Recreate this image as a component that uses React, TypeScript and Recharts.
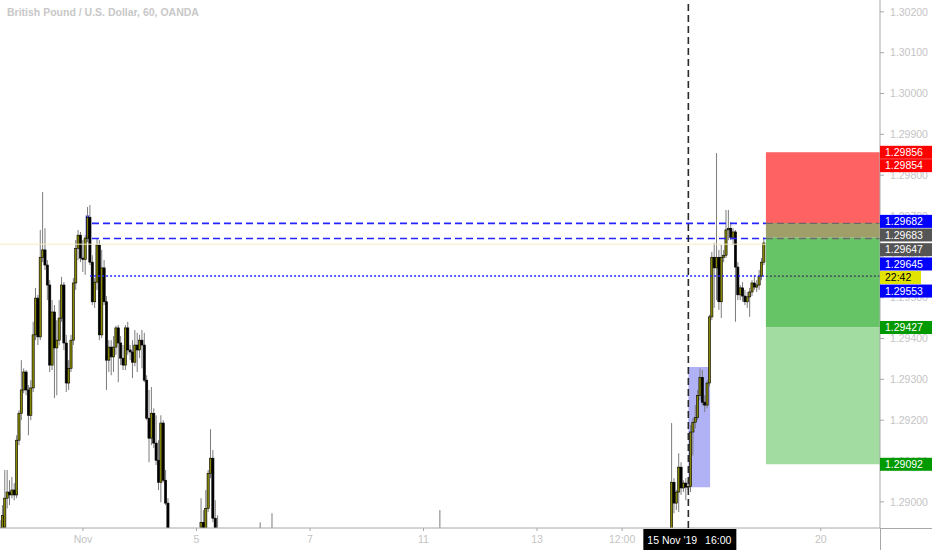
import React from "react";
import {
  ComposedChart,
  Bar,
  XAxis,
  YAxis,
  ReferenceLine,
  ReferenceArea,
} from "recharts";

document.body.style.margin = "0";

// [hour index, open, high, low, close] — hour 0 = 1 Nov 00:00
type Candle = [number, number, number, number, number];

const LATE_OCTOBER_RALLY: Candle[] = [
  [-35, 1.28906, 1.28955, 1.28894, 1.28936],
  [-34, 1.28919, 1.28992, 1.28906, 1.28967],
  [-33, 1.28938, 1.29078, 1.28931, 1.29009],
  [-32, 1.29009, 1.29078, 1.28984, 1.29024],
  [-31, 1.29024, 1.29053, 1.28992, 1.29017],
  [-30, 1.29017, 1.29061, 1.29009, 1.29029],
  [-29, 1.29029, 1.29046, 1.29004, 1.29017],
  [-28, 1.29017, 1.29163, 1.29009, 1.29151],
  [-27, 1.29151, 1.29224, 1.29139, 1.29217],
  [-26, 1.29217, 1.29347, 1.292, 1.29274],
  [-25, 1.29274, 1.29327, 1.29266, 1.29318],
  [-24, 1.29318, 1.29323, 1.29261, 1.29274],
  [-23, 1.29274, 1.29286, 1.29163, 1.29212],
  [-22, 1.29212, 1.29298, 1.292, 1.29279],
  [-21, 1.29279, 1.29441, 1.29269, 1.29409],
  [-20, 1.29409, 1.29524, 1.29396, 1.29499],
  [-19, 1.29499, 1.29507, 1.29384, 1.29404],
  [-18, 1.29404, 1.29666, 1.29396, 1.29599],
  [-17, 1.29599, 1.29759, 1.29587, 1.29617],
  [-16, 1.29617, 1.2967, 1.29568, 1.2958],
  [-15, 1.2958, 1.29592, 1.29494, 1.29531],
  [-14, 1.29531, 1.29543, 1.29318, 1.29335],
  [-13, 1.29335, 1.29494, 1.29323, 1.29465],
  [-12, 1.29465, 1.29482, 1.29254, 1.29377],
  [-11, 1.29377, 1.29445, 1.29261, 1.29396],
  [-10, 1.29396, 1.29494, 1.29384, 1.2945],
  [-9, 1.2945, 1.29551, 1.29441, 1.29531],
  [-8, 1.29531, 1.29538, 1.29372, 1.29389],
  [-7, 1.29389, 1.29409, 1.29269, 1.29291],
  [-6, 1.29291, 1.29347, 1.29274, 1.29327],
  [-5, 1.29327, 1.29409, 1.29318, 1.29396],
  [-4, 1.29396, 1.29548, 1.29384, 1.29536],
  [-3, 1.29536, 1.29641, 1.29519, 1.29621],
  [-2, 1.29621, 1.29666, 1.29592, 1.29653],
  [-1, 1.29653, 1.29661, 1.29587, 1.29597],
];

const NOVEMBER_TOP: Candle[] = [
  [0, 1.29597, 1.29641, 1.29563, 1.29594],
  [1, 1.29594, 1.29653, 1.29556, 1.29646],
  [2, 1.29646, 1.29722, 1.29636, 1.29697],
  [3, 1.29697, 1.29727, 1.2958, 1.29587],
  [4, 1.29587, 1.29604, 1.29482, 1.2949],
  [5, 1.2949, 1.29548, 1.29475, 1.29538],
  [6, 1.29538, 1.29646, 1.29519, 1.29629],
  [7, 1.29629, 1.29641, 1.29396, 1.29409],
  [8, 1.29409, 1.29617, 1.29401, 1.29573],
  [9, 1.29573, 1.29592, 1.29482, 1.2949],
  [10, 1.2949, 1.29504, 1.29274, 1.29347],
  [11, 1.29347, 1.29396, 1.29318, 1.29379],
  [12, 1.29379, 1.29396, 1.2931, 1.29355],
  [13, 1.29355, 1.29406, 1.29318, 1.29379],
  [14, 1.29379, 1.29431, 1.2936, 1.29426],
  [15, 1.29426, 1.29433, 1.29293, 1.29389],
  [16, 1.29389, 1.29406, 1.29335, 1.29352],
  [17, 1.29352, 1.29384, 1.29323, 1.29335],
  [18, 1.29335, 1.29433, 1.29323, 1.29426],
  [19, 1.29426, 1.29441, 1.2936, 1.29372],
  [20, 1.29372, 1.29384, 1.29347, 1.29367],
  [21, 1.29367, 1.29396, 1.29303, 1.29342],
  [22, 1.29342, 1.29421, 1.29332, 1.29384],
  [23, 1.29384, 1.29414, 1.29318, 1.29372],
  [24, 1.29372, 1.29409, 1.29352, 1.29396],
  [25, 1.29396, 1.29421, 1.29327, 1.29384],
  [26, 1.29384, 1.29414, 1.29293, 1.29298],
  [27, 1.29298, 1.2931, 1.292, 1.29205],
  [28, 1.29205, 1.29274, 1.29097, 1.29156],
  [29, 1.29156, 1.29281, 1.29139, 1.29217],
  [30, 1.29217, 1.29229, 1.29132, 1.29144],
  [31, 1.29144, 1.29212, 1.2909, 1.29102],
  [32, 1.29102, 1.29151, 1.29029, 1.29048],
  [33, 1.29048, 1.29212, 1.28999, 1.29193],
  [34, 1.29193, 1.292, 1.29048, 1.29053],
  [35, 1.29053, 1.29078, 1.28992, 1.28997],
  [36, 1.28997, 1.29009, 1.28887, 1.28906],
  [37, 1.28906, 1.28931, 1.28857, 1.2887],
];

const NOV5_BOUNCE: Candle[] = [
  [49, 1.28894, 1.28931, 1.28857, 1.28887],
  [50, 1.28938, 1.29009, 1.28919, 1.2895],
  [51, 1.2895, 1.2898, 1.28906, 1.28926],
  [52, 1.28919, 1.29029, 1.28906, 1.28984],
  [53, 1.28984, 1.29078, 1.28975, 1.2907],
  [54, 1.2907, 1.29178, 1.29058, 1.29107],
  [55, 1.29107, 1.29127, 1.2895, 1.2896],
  [56, 1.2896, 1.29004, 1.28894, 1.28919],
  [57, 1.28919, 1.28967, 1.28882, 1.28894],
];

const LOW_RANGE_SPIKES: Candle[] = [
  [75, 1.28882, 1.2895, 1.28857, 1.28894],
  [80, 1.28894, 1.28972, 1.28857, 1.28882],
  [151, 1.28887, 1.2898, 1.28857, 1.28894],
];

const NOV15_BREAKOUT: Candle[] = [
  [248, 1.28882, 1.28931, 1.28857, 1.28894],
  [249, 1.28906, 1.29193, 1.28894, 1.29048],
  [250, 1.29048, 1.29058, 1.28972, 1.28997],
  [251, 1.28997, 1.29029, 1.2898, 1.29024],
  [252, 1.29024, 1.29119, 1.28975, 1.29085],
  [253, 1.29085, 1.29097, 1.29017, 1.29034],
  [254, 1.29034, 1.29053, 1.29024, 1.29046],
  [255, 1.29046, 1.29058, 1.29004, 1.29036],
  [256, 1.29036, 1.29053, 1.29029, 1.29038],
  [257, 1.29038, 1.29188, 1.29024, 1.29171],
  [258, 1.29171, 1.29205, 1.29114, 1.29195],
  [259, 1.29195, 1.29237, 1.2918, 1.29207],
  [260, 1.29207, 1.29274, 1.292, 1.29261],
  [261, 1.29261, 1.29327, 1.29249, 1.29305],
  [262, 1.29305, 1.29323, 1.29237, 1.29244],
  [263, 1.29244, 1.29261, 1.2922, 1.29237],
  [264, 1.29237, 1.29298, 1.29229, 1.29291],
  [265, 1.29291, 1.29458, 1.29283, 1.29453],
  [266, 1.29453, 1.29612, 1.29445, 1.29599],
  [267, 1.29599, 1.29634, 1.29475, 1.29573],
  [268, 1.29573, 1.29854, 1.29494, 1.29599],
  [269, 1.29599, 1.29617, 1.2947, 1.2949],
  [270, 1.2949, 1.29629, 1.2945, 1.29599],
  [271, 1.29599, 1.29617, 1.29587, 1.29604],
  [272, 1.29604, 1.29715, 1.29597, 1.29666],
  [273, 1.29666, 1.29715, 1.29641, 1.2967],
  [274, 1.2967, 1.29685, 1.29641, 1.29648],
  [275, 1.29648, 1.2967, 1.29629, 1.29661],
  [276, 1.29661, 1.29666, 1.29441, 1.29575],
  [277, 1.29575, 1.29587, 1.29494, 1.29507],
  [278, 1.29507, 1.29531, 1.29494, 1.29524],
  [279, 1.29524, 1.29538, 1.2949, 1.29504],
  [280, 1.29504, 1.29519, 1.29482, 1.2949],
  [281, 1.2949, 1.29514, 1.29475, 1.29502],
  [282, 1.29502, 1.29524, 1.29453, 1.29514],
  [283, 1.29514, 1.29543, 1.29504, 1.29536],
  [284, 1.29536, 1.29556, 1.29519, 1.29526],
  [285, 1.29526, 1.29543, 1.29514, 1.29531],
  [286, 1.29531, 1.29568, 1.29519, 1.29553],
  [287, 1.29553, 1.29597, 1.29543, 1.29587],
  [288, 1.29587, 1.29648, 1.2958, 1.29634],
];

const PRICE_TICKS = [
  1.29, 1.291, 1.292, 1.293, 1.294, 1.295, 1.296, 1.297, 1.298, 1.299, 1.3,
  1.301, 1.302,
];
const DATE_TICKS = [0, 48, 96, 144, 192, 228, 312];
const DATE_LABELS = ["Nov", "5", "7", "11", "13", "12:00", "20"];

// drawn levels
const DASHED_LEVELS = [1.29682, 1.29645];
const DOTTED_LEVEL = 1.29553;
const PREV_CLOSE_LEVEL = 1.29631;
const LEVEL_START_HOUR = 3.8;
const HIGHLIGHT_CANDLE = { hour: 2, top: 1.297, bottom: 1.29646 };

// short position tool
const POSITION_START = 288.8;
const POSITION_ZONES = [1.29856, 1.29683, 1.29647, 1.29427, 1.29092];

// date range highlight and crosshair
const RANGE_HOURS = [256, 265.2];
const RANGE_PRICES = [1.29036, 1.2933];
const CURSOR_HOUR = 256;
const CURSOR_LABEL = ["15 Nov '19", "16:00"];

// right-axis tags
const TAG_PRICES = [
  1.29856, 1.29854, 1.29682, 1.29683, 1.29647, 1.29645, 1.29553, 1.29553,
  1.29427, 1.29092,
];
const TAG_TEXTS = [
  "1.29856", "1.29854", "1.29682", "1.29683", "1.29647", "1.29645", "22:42",
  "1.29553", "1.29427", "1.29092",
];

const X_DOMAIN = [-35.1, 337.05];
const Y_DOMAIN = [1.28936, 1.30229];

const DATA = [
  ...LATE_OCTOBER_RALLY,
  ...NOVEMBER_TOP,
  ...NOV5_BOUNCE,
  ...LOW_RANGE_SPIKES,
  ...NOV15_BREAKOUT,
].map(([hour, open, high, low, close]) => ({ hour, open, high, low, close }));

const TAG_STYLES = [
  { bg: "#ff0000", fg: "#fff", shift: 0, w: 52 },
  { bg: "#ff0000", fg: "#fff", shift: 12.5, w: 52 },
  { bg: "#0000ff", fg: "#fff", shift: -2, w: 52 },
  { bg: "#555555", fg: "#fff", shift: 12, w: 52 },
  { bg: "#555555", fg: "#fff", shift: 12, w: 52 },
  { bg: "#0000ff", fg: "#fff", shift: 25.5, w: 52 },
  { bg: "#e3e300", fg: "#000", shift: 1.5, w: 41 },
  { bg: "#0000ff", fg: "#fff", shift: 15, w: 52 },
  { bg: "#009900", fg: "#fff", shift: 0, w: 52 },
  { bg: "#009900", fg: "#fff", shift: 0, w: 52 },
];

const ZONE_COLORS = ["#ff6262", "#a09f6a", "#66c466", "#a2dca0"];

const CandleShape = (props: any) => {
  const { x, y, width, height, payload } = props;
  const { open, high, low, close } = payload;
  const cx = x + width / 2;
  const span = high - low || 1;
  const yOf = (v: number) => y + ((high - v) / span) * height;
  const top = yOf(Math.max(open, close));
  const bottom = yOf(Math.min(open, close));
  const up = close >= open;
  return (
    <g>
      <line x1={cx} x2={cx} y1={y} y2={y + height} stroke="#7c7c7c" strokeWidth={1} />
      <rect
        x={cx - 1.1}
        y={top}
        width={2.2}
        height={Math.max(bottom - top, 1)}
        fill={up ? "#868600" : "#000"}
        stroke="#000"
        strokeWidth={0.6}
      />
    </g>
  );
};

const PriceTag = (props: any) => {
  const { viewBox, text, bg, fg, shift, w } = props;
  const x0 = viewBox.x + viewBox.width;
  const cy = viewBox.y + shift;
  return (
    <g>
      <rect x={x0} y={cy - 6.5} width={w} height={13} fill={bg} />
      <text x={x0 + 5} y={cy} dy="0.36em" fontSize={10.5} fill={fg}>
        {text}
      </text>
    </g>
  );
};

const DateTag = (props: any) => {
  const { viewBox } = props;
  const cx = viewBox.x;
  const base = viewBox.y + viewBox.height;
  return (
    <g>
      <rect x={cx - 45} y={base + 1} width={93} height={21} fill="#000" />
      <text x={cx - 41} y={base + 12} dy="0.36em" fontSize={10.5} fill="#fff">
        {CURSOR_LABEL[0]}
      </text>
      <text x={cx + 43} y={base + 12} dy="0.36em" fontSize={10.5} fill="#fff" textAnchor="end">
        {CURSOR_LABEL[1]}
      </text>
    </g>
  );
};

export default function App() {
  return (
    <div
      style={{
        position: "relative",
        width: 932,
        height: 550,
        background: "#fff",
        fontFamily: "'Liberation Sans', Arial, sans-serif",
      }}
    >
      <ComposedChart
        width={932}
        height={550}
        data={DATA}
        margin={{ top: 0, right: 0, left: 0, bottom: 0 }}
      >
        <XAxis
          dataKey="hour"
          type="number"
          domain={X_DOMAIN}
          allowDataOverflow
          ticks={DATE_TICKS}
          interval={0}
          tickFormatter={(v: number) => DATE_LABELS[DATE_TICKS.indexOf(v)]}
          height={22}
          tickSize={3}
          tickMargin={5}
          tick={{ fill: "#c4c4c4", fontSize: 10.5 }}
          axisLine={{ stroke: "#a8a8a8" }}
          tickLine={{ stroke: "#a8a8a8" }}
        />
        <YAxis
          orientation="right"
          type="number"
          domain={Y_DOMAIN}
          allowDataOverflow
          ticks={PRICE_TICKS}
          interval={0}
          tickFormatter={(v: number) => v.toFixed(5)}
          width={52}
          tickSize={4}
          tickMargin={6}
          tick={{ fill: "#c4c4c4", fontSize: 10.5, textAnchor: "start" }}
          axisLine={{ stroke: "#a8a8a8" }}
          tickLine={{ stroke: "#a8a8a8" }}
        />

        <ReferenceArea
          x1={RANGE_HOURS[0]}
          x2={RANGE_HOURS[1]}
          y1={RANGE_PRICES[0]}
          y2={RANGE_PRICES[1]}
          fill="#b1b1f6"
          fillOpacity={1}
          stroke="none"
        />
        {ZONE_COLORS.map((c, i) => (
          <ReferenceArea
            key={"zone" + i}
            x1={POSITION_START}
            x2={X_DOMAIN[1]}
            y1={POSITION_ZONES[i + 1]}
            y2={POSITION_ZONES[i]}
            fill={c}
            fillOpacity={1}
            stroke="none"
          />
        ))}
        <ReferenceLine
          segment={[
            { x: X_DOMAIN[0], y: PREV_CLOSE_LEVEL },
            { x: POSITION_START, y: PREV_CLOSE_LEVEL },
          ]}
          stroke="#f2edc4"
          strokeWidth={1}
        />

        <Bar
          dataKey={(d: any) => [d.low, d.high]}
          barSize={2}
          shape={<CandleShape />}
          isAnimationActive={false}
        />

        <ReferenceArea
          x1={HIGHLIGHT_CANDLE.hour - 0.6}
          x2={HIGHLIGHT_CANDLE.hour + 0.4}
          y1={HIGHLIGHT_CANDLE.bottom}
          y2={HIGHLIGHT_CANDLE.top}
          fill="none"
          stroke="#2424ff"
          strokeWidth={1.2}
        />
        {DASHED_LEVELS.map((p) => (
          <ReferenceLine
            key={"dl" + p}
            segment={[
              { x: LEVEL_START_HOUR, y: p },
              { x: POSITION_START, y: p },
            ]}
            stroke="#2424ff"
            strokeWidth={1.6}
            strokeDasharray="7 4"
          />
        ))}
        {DASHED_LEVELS.map((p) => (
          <ReferenceLine
            key={"dg" + p}
            segment={[
              { x: POSITION_START, y: p },
              { x: X_DOMAIN[1], y: p },
            ]}
            stroke="#6a6a6a"
            strokeWidth={1.4}
            strokeDasharray="7 4"
          />
        ))}
        <ReferenceLine
          segment={[
            { x: LEVEL_START_HOUR - 0.8, y: DOTTED_LEVEL },
            { x: POSITION_START, y: DOTTED_LEVEL },
          ]}
          stroke="#2424ff"
          strokeWidth={1.4}
          strokeDasharray="2 2"
        />
        <ReferenceLine
          segment={[
            { x: POSITION_START, y: DOTTED_LEVEL },
            { x: X_DOMAIN[1], y: DOTTED_LEVEL },
          ]}
          stroke="#3a3a5a"
          strokeWidth={1.2}
          strokeDasharray="2 2"
        />
        <ReferenceLine
          x={CURSOR_HOUR}
          stroke="#2a2a2a"
          strokeWidth={1.6}
          strokeDasharray="7 4"
          zIndex={3000}
          label={<DateTag />}
        />

        {TAG_PRICES.map((p, i) => (
          <ReferenceLine
            key={"tag" + i}
            y={p}
            stroke="none"
            strokeOpacity={0}
            zIndex={3000}
            label={<PriceTag text={TAG_TEXTS[i]} {...TAG_STYLES[i]} zIndex={3000} />}
          />
        ))}
      </ComposedChart>

      <div
        style={{
          position: "absolute",
          left: 7,
          top: 6,
          fontSize: 10.5,
          fontWeight: "bold",
          color: "#c8c8c8",
          whiteSpace: "nowrap",
        }}
      >
        British Pound / U.S. Dollar, 60, OANDA
      </div>
      <div style={{ position: "absolute", left: 880, top: 528, width: 1, height: 22, background: "#a8a8a8" }} />
      <div style={{ position: "absolute", left: 880, top: 528, width: 52, height: 1, background: "#a8a8a8" }} />
    </div>
  );
}
